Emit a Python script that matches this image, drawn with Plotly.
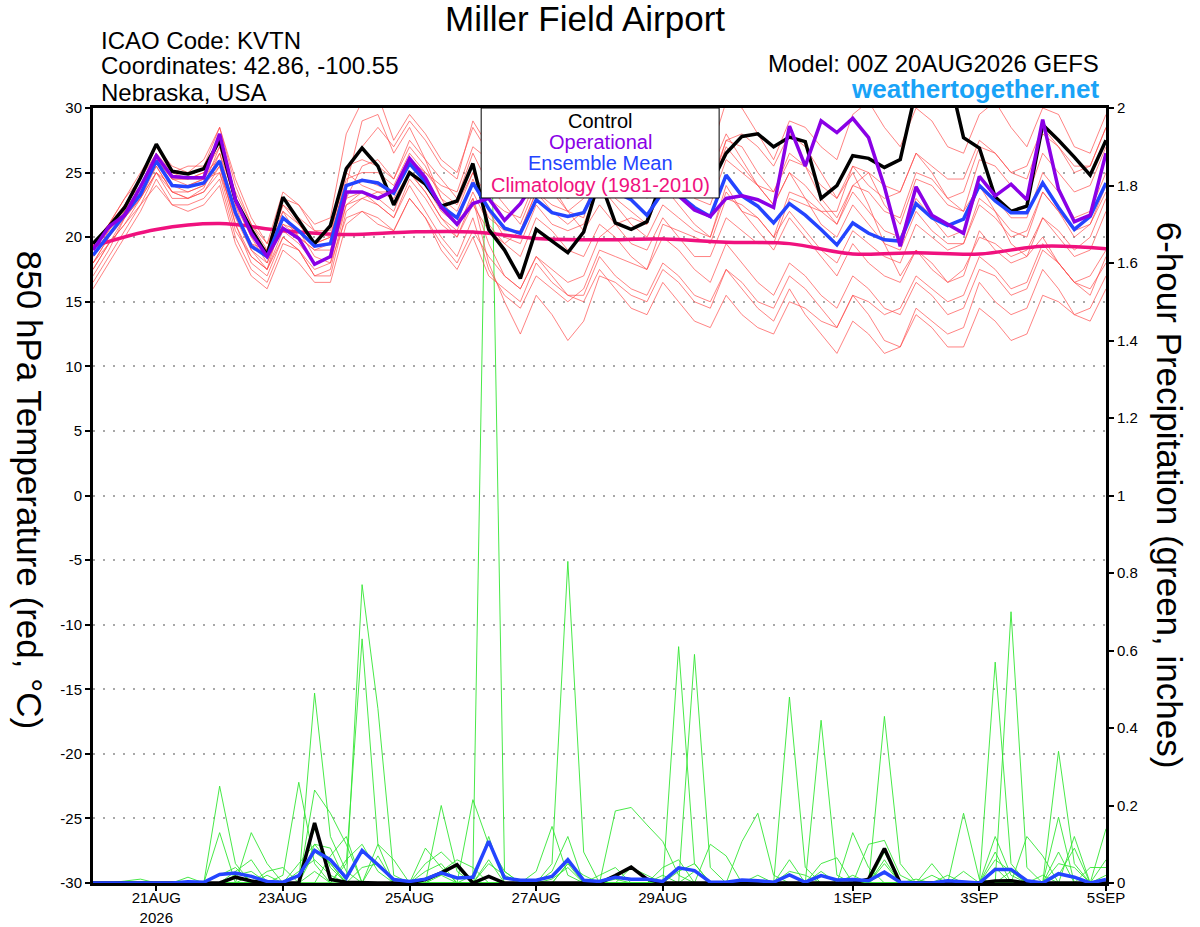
import pandas as pd
import plotly.graph_objects as go

# 6-hourly GEFS output, 00Z 20AUG2026 -> 00Z 5SEP2026
times = pd.date_range("2026-08-20 00:00", periods=65, freq="6h")
clim_times = pd.date_range("2026-08-20", periods=17, freq="D")

tick_dates = ["2026-08-21", "2026-08-23", "2026-08-25", "2026-08-27",
              "2026-08-29", "2026-09-01", "2026-09-03", "2026-09-05"]
tick_labels = ["21AUG<br>2026", "23AUG", "25AUG", "27AUG",
               "29AUG", "1SEP", "3SEP", "5SEP"]
temp_ticks = list(range(-30, 31, 5))
temp_tick_labels = [str(t) for t in temp_ticks]

# ---- 850 hPa temperature (C) ----
temp_control = [
    19.5, 20.8, 22.3, 24.6, 27.2, 25.1, 24.9, 25.3, 27.5, 22.9, 20.6, 18.6, 23.1,
    21.3, 19.5, 20.9, 25.3, 26.9, 25.5, 22.5, 25.0, 24.1, 22.4, 22.8, 25.7, 20.6,
    19.0, 16.8, 20.6, 19.7, 18.8, 20.4, 24.5, 21.1, 20.6, 21.2, 24.5, 25.0, 24.5,
    24.0, 26.5, 27.8, 28.0, 27.0, 27.75, 27.4, 23.0, 24.0, 26.3, 26.1, 25.4, 26.0,
    31.4, 33.0, 33.0, 27.7, 26.9, 23.1, 22.0, 22.4, 28.7, 27.5, 26.2, 24.8, 27.5]
temp_oper = [
    19.0, 20.8, 21.7, 23.9, 26.3, 24.7, 24.6, 24.6, 28.0, 22.9, 20.3, 18.5, 20.7,
    19.9, 17.9, 18.5, 23.5, 23.5, 23.0, 23.6, 26.1, 24.6, 22.3, 21.0, 22.6, 23.0,
    21.3, 22.6, 24.5, 24.0, 24.0, 24.5, 25.0, 24.0, 23.5, 24.0, 25.0, 23.2, 22.1,
    21.6, 23.0, 23.2, 22.9, 22.3, 28.6, 25.5, 29.0, 28.1, 29.2, 27.7, 23.9, 19.3,
    23.9, 21.7, 21.0, 20.3, 24.7, 23.2, 24.1, 22.9, 29.1, 23.7, 21.2, 21.7, 26.5]
temp_mean = [
    18.6, 20.2, 21.7, 23.3, 25.9, 24.0, 23.9, 24.2, 25.9, 21.9, 19.3, 18.5, 21.5,
    20.5, 19.3, 19.5, 24.0, 24.4, 24.2, 23.4, 25.7, 24.3, 22.4, 21.5, 24.2, 22.2,
    20.7, 20.3, 22.9, 21.9, 21.6, 21.9, 24.3, 23.5, 22.9, 21.7, 23.5, 23.3, 22.3,
    21.6, 24.8, 23.2, 22.4, 21.1, 22.6, 21.7, 20.6, 19.4, 21.1, 20.3, 19.8, 19.7,
    22.6, 21.5, 20.9, 21.4, 24.0, 22.8, 21.9, 21.9, 24.2, 22.3, 20.6, 21.6, 24.2]
temp_clim = [19.3, 20.6, 21.05, 20.5, 20.2, 20.4, 20.4, 19.9, 19.8,
             19.85, 19.6, 19.5, 18.7, 18.8, 18.7, 19.3, 19.1]

temp_m01 = [
    17.5, 19.5, 21.0, 23.0, 25.0, 23.5, 23.0, 23.8, 26.5, 23.0, 20.0, 18.0, 21.0,
    20.5, 18.5, 18.0, 23.0, 25.5, 26.0, 24.5, 27.5, 26.0, 24.5, 23.0, 26.5, 24.0,
    22.5, 21.0, 24.0, 23.5, 22.0, 21.5, 25.5, 26.0, 25.0, 23.5, 26.0, 27.0, 25.5,
    24.0, 27.5, 27.0, 25.0, 23.5, 26.0, 25.5, 23.0, 21.5, 24.0, 25.0, 22.5, 21.0,
    24.5, 24.0, 22.5, 22.0, 26.0, 25.5, 24.0, 23.0, 26.5, 25.0, 23.5, 24.0, 27.0]
temp_m02 = [
    18.0, 20.0, 22.0, 24.0, 26.0, 24.5, 24.0, 24.5, 25.0, 20.5, 18.5, 17.5, 20.0,
    19.0, 17.5, 18.0, 21.5, 22.0, 21.0, 20.5, 23.0, 21.5, 19.5, 18.0, 20.5, 18.5,
    17.0, 16.0, 18.5, 17.0, 15.5, 15.0, 17.5, 16.0, 14.5, 14.0, 16.5, 15.0, 13.5,
    13.0, 15.5, 14.0, 13.0, 12.5, 15.0, 14.5, 13.5, 13.0, 15.5, 15.0, 14.0, 14.5,
    17.0, 16.0, 15.0, 15.5, 18.5, 17.5, 16.0, 16.5, 19.5, 18.0, 16.5, 17.0, 19.0]
temp_m03 = [
    19.5, 21.0, 22.5, 24.5, 26.5, 25.0, 25.5, 25.5, 28.5, 24.5, 21.5, 19.5, 23.5,
    22.5, 21.0, 21.5, 28.0, 30.5, 31.0, 27.5, 29.5, 28.0, 26.0, 25.0, 28.5, 26.5,
    25.0, 24.0, 27.0, 26.5, 25.5, 25.0, 28.5, 29.0, 27.5, 26.0, 28.5, 29.5, 28.0,
    26.5, 30.5, 30.0, 28.0, 26.0, 29.0, 28.5, 27.0, 26.0, 29.5, 30.5, 28.5, 27.0,
    30.0, 29.0, 27.0, 26.5, 29.5, 30.5, 28.5, 27.0, 30.0, 29.5, 27.0, 26.5, 29.5]
temp_m04 = [
    16.5, 18.5, 20.5, 22.5, 24.0, 22.5, 22.5, 23.0, 24.5, 20.0, 17.5, 16.5, 19.5,
    19.0, 17.0, 17.5, 22.5, 23.5, 23.0, 22.0, 25.0, 23.5, 21.5, 20.5, 23.5, 21.0,
    19.5, 18.5, 21.5, 20.5, 19.0, 18.5, 21.0, 20.0, 18.5, 17.5, 20.0, 19.0, 17.5,
    16.5, 19.5, 18.0, 16.5, 15.5, 18.0, 17.0, 15.5, 14.5, 17.0, 16.0, 14.5, 14.0,
    16.5, 15.5, 14.0, 14.5, 17.5, 17.0, 15.5, 16.0, 19.0, 18.0, 16.5, 15.5, 18.5]
temp_m05 = [
    18.5, 20.5, 22.5, 24.0, 26.5, 24.5, 24.5, 25.0, 27.0, 22.5, 20.0, 19.0, 22.5,
    21.0, 19.5, 20.0, 25.5, 26.0, 25.5, 24.5, 27.0, 25.5, 23.0, 22.0, 25.0, 22.0,
    20.0, 19.5, 22.5, 21.0, 20.5, 21.0, 24.0, 22.5, 21.0, 20.0, 22.5, 21.5, 20.5,
    20.0, 23.5, 22.0, 21.5, 20.0, 22.0, 20.5, 19.0, 18.0, 20.5, 19.5, 18.5, 18.0,
    21.0, 20.0, 19.0, 19.5, 22.5, 21.5, 20.0, 20.5, 23.5, 22.0, 20.0, 21.0, 23.5]
temp_m06 = [
    17.0, 19.0, 21.5, 23.5, 25.5, 23.5, 23.5, 24.0, 25.5, 21.0, 18.5, 17.5, 20.5,
    19.5, 18.0, 18.5, 24.0, 24.5, 24.0, 23.5, 26.0, 24.0, 22.0, 21.0, 24.5, 21.5,
    20.5, 20.5, 23.5, 22.0, 21.0, 22.0, 25.0, 23.0, 22.0, 21.0, 24.0, 22.5, 21.0,
    20.0, 24.0, 22.0, 20.5, 19.0, 21.5, 20.0, 18.5, 17.0, 19.5, 18.0, 17.0, 16.5,
    19.0, 18.0, 16.5, 17.0, 20.5, 19.0, 18.0, 18.5, 21.5, 20.0, 18.5, 19.0, 22.0]
temp_m07 = [
    18.0, 20.0, 21.5, 23.0, 25.5, 23.5, 23.0, 23.5, 25.0, 21.5, 19.0, 18.0, 21.0,
    20.0, 19.0, 19.0, 23.0, 23.5, 22.5, 21.5, 24.0, 22.0, 20.0, 18.5, 21.5, 17.5,
    15.5, 14.5, 17.0, 16.0, 15.0, 16.0, 19.0, 18.5, 18.0, 17.5, 21.0, 20.5, 20.0,
    19.5, 23.0, 22.5, 21.5, 20.0, 23.5, 23.0, 22.0, 21.0, 24.0, 23.5, 22.0, 21.5,
    25.0, 24.5, 23.0, 23.5, 27.0, 26.5, 25.0, 24.5, 28.0, 27.0, 25.5, 25.5, 28.5]
temp_m08 = [
    19.0, 21.0, 23.0, 24.5, 27.0, 25.0, 24.5, 24.5, 26.5, 22.0, 19.5, 18.5, 22.0,
    21.0, 19.5, 20.0, 24.5, 25.0, 25.0, 24.0, 26.5, 25.0, 23.5, 22.5, 25.0, 23.0,
    22.0, 21.5, 24.5, 23.5, 23.0, 23.5, 26.0, 25.5, 24.5, 23.0, 25.5, 24.5, 23.0,
    22.5, 26.0, 25.0, 24.0, 22.5, 25.0, 24.0, 22.5, 21.0, 23.5, 22.0, 20.5, 20.0,
    23.0, 21.5, 20.0, 20.5, 24.0, 23.0, 21.5, 21.5, 25.0, 23.5, 21.5, 22.0, 25.0]
temp_m09 = [
    18.5, 20.0, 22.0, 24.0, 26.0, 24.0, 24.0, 24.5, 27.5, 22.5, 19.0, 17.5, 21.5,
    20.0, 19.0, 19.5, 25.0, 27.0, 28.5, 27.0, 29.0, 27.5, 25.5, 24.5, 29.0, 27.0,
    26.0, 25.5, 29.0, 28.0, 27.5, 27.0, 30.0, 29.5, 28.0, 26.5, 29.5, 28.0, 26.5,
    25.0, 28.0, 26.0, 24.0, 22.5, 25.0, 23.0, 21.0, 20.0, 22.5, 21.0, 19.5, 19.0,
    22.0, 20.5, 19.5, 19.5, 23.0, 22.0, 20.5, 20.0, 23.5, 22.0, 20.5, 21.0, 24.0]
temp_m10 = [
    17.5, 19.5, 21.0, 22.5, 25.0, 23.0, 23.0, 23.5, 25.5, 21.0, 18.0, 17.0, 20.0,
    19.0, 17.0, 17.0, 22.0, 23.0, 22.5, 21.5, 24.5, 23.0, 21.0, 20.0, 23.0, 18.0,
    15.0, 12.5, 15.5, 14.0, 12.0, 13.5, 17.0, 16.5, 15.5, 15.0, 17.5, 16.5, 15.0,
    14.5, 17.5, 16.5, 15.0, 14.5, 17.0, 16.0, 14.5, 13.0, 15.5, 14.0, 12.0, 11.5,
    14.0, 13.0, 11.5, 11.5, 14.5, 13.5, 12.0, 12.5, 15.5, 15.0, 14.0, 13.5, 16.0]
temp_m11 = [
    19.0, 20.5, 22.0, 23.5, 26.0, 24.5, 24.5, 25.0, 26.0, 22.0, 19.5, 19.0, 22.5,
    21.5, 20.5, 20.5, 25.0, 24.0, 23.5, 23.0, 25.0, 23.5, 21.5, 20.0, 22.5, 20.5,
    19.5, 20.5, 23.5, 22.5, 22.0, 23.0, 26.5, 25.0, 24.0, 23.5, 26.5, 25.5, 24.0,
    23.5, 27.0, 25.5, 24.0, 23.5, 26.5, 25.5, 24.0, 23.0, 25.5, 24.0, 23.0, 23.5,
    26.5, 25.5, 24.5, 24.5, 27.5, 26.5, 25.0, 25.5, 28.5, 27.0, 25.0, 25.5, 28.5]
temp_m12 = [
    16.0, 18.0, 20.0, 22.0, 24.5, 22.5, 22.0, 22.5, 24.0, 19.5, 17.0, 16.0, 19.0,
    18.0, 16.5, 16.5, 21.0, 22.0, 21.5, 20.5, 23.0, 21.5, 19.0, 17.5, 20.0, 17.0,
    16.0, 15.0, 18.0, 16.5, 15.5, 15.5, 18.5, 17.0, 16.0, 15.5, 18.0, 17.0, 15.5,
    15.0, 17.5, 16.0, 14.5, 13.5, 16.0, 14.0, 12.5, 11.0, 13.5, 12.5, 11.0, 11.5,
    14.5, 13.5, 12.5, 13.0, 16.5, 15.0, 14.0, 14.5, 17.5, 16.0, 14.0, 14.5, 17.0]
temp_m13 = [
    18.0, 19.5, 21.5, 23.0, 25.0, 24.0, 23.5, 24.0, 27.0, 23.5, 21.0, 19.0, 23.0,
    22.5, 20.5, 20.0, 24.0, 29.0, 29.5, 26.5, 28.5, 26.0, 23.0, 21.0, 23.0, 19.5,
    17.0, 16.0, 18.5, 17.5, 16.5, 17.0, 20.0, 21.0, 21.5, 21.0, 24.5, 24.0, 23.5,
    23.5, 27.5, 28.0, 27.0, 25.5, 28.0, 27.0, 25.0, 23.0, 25.0, 22.5, 19.5, 17.0,
    19.0, 17.5, 16.5, 17.5, 20.0, 19.5, 18.5, 19.0, 21.5, 20.5, 19.0, 20.0, 23.0]
temp_m14 = [
    19.5, 21.0, 23.0, 25.0, 27.0, 25.5, 25.0, 26.0, 28.5, 24.0, 21.0, 19.5, 22.0,
    20.0, 18.0, 18.5, 22.5, 23.0, 23.5, 23.5, 26.0, 25.0, 24.0, 23.5, 27.0, 26.0,
    25.0, 24.0, 26.0, 24.0, 22.0, 20.5, 22.5, 21.0, 19.5, 19.0, 21.5, 20.0, 18.5,
    18.5, 21.5, 20.5, 19.5, 19.5, 23.0, 22.5, 22.0, 22.0, 25.5, 25.0, 24.0, 23.5,
    26.5, 25.0, 23.0, 22.0, 24.0, 22.0, 19.5, 18.5, 20.0, 18.0, 16.5, 16.0, 18.0]

temp_members = [temp_m01, temp_m02, temp_m03, temp_m04, temp_m05, temp_m06, temp_m07,
                temp_m08, temp_m09, temp_m10, temp_m11, temp_m12, temp_m13, temp_m14]

# ---- 6-hour precipitation (inches) ----
precip_control = [
    0, 0, 0, 0, 0, 0, 0, 0, 0, 0.015, 0.005, 0, 0,
    0, 0.155, 0.009, 0.002, 0, 0, 0, 0, 0.009, 0.026, 0.047, 0, 0.017,
    0, 0, 0, 0, 0, 0, 0, 0.019, 0.041, 0.01, 0, 0, 0,
    0, 0, 0, 0, 0, 0, 0, 0, 0, 0, 0.01, 0.089, 0,
    0, 0, 0, 0, 0, 0.005, 0.006, 0, 0, 0, 0, 0, 0]
precip_mean = [
    0, 0, 0, 0, 0, 0, 0.003, 0.002, 0.022, 0.026, 0.017, 0.004, 0.002,
    0.019, 0.084, 0.06, 0.013, 0.084, 0.047, 0.009, 0.004, 0.01, 0.026, 0.013, 0.015, 0.108,
    0.013, 0.007, 0.007, 0.017, 0.06, 0.007, 0.004, 0.015, 0.01, 0.01, 0.004, 0.039, 0.032,
    0.002, 0.002, 0.008, 0.006, 0.002, 0.021, 0.002, 0.019, 0.008, 0.009, 0.006, 0.028, 0.002,
    0.0, 0.0, 0.006, 0.004, 0.0, 0.035, 0.035, 0.006, 0.0, 0.024, 0.015, 0.0, 0.009]

# members: 6-h step index -> amount (all other steps dry)
precip_m01 = {13: 0.03, 14: 0.06, 15: 0.02, 24: 0.02, 25: 2.35, 26: 0.03, 44: 0.02, 50: 0.03}
precip_m02 = {8: 0.25, 9: 0.05, 14: 0.49, 15: 0.12, 16: 0.03, 30: 0.05, 37: 0.61, 38: 0.05,
              57: 0.12, 58: 0.02}
precip_m03 = {8: 0.13, 10: 0.02, 17: 0.77, 18: 0.45, 19: 0.02, 29: 0.05, 30: 0.83, 31: 0.08,
              46: 0.42, 47: 0.02, 61: 0.17}
precip_m04 = {10: 0.13, 11: 0.05, 16: 0.05, 17: 0.63, 18: 0.1, 22: 0.2, 23: 0.03, 38: 0.59,
              39: 0.04, 50: 0.43, 51: 0.05, 64: 0.06}
precip_m05 = {12: 0.02, 13: 0.26, 14: 0.05, 21: 0.09, 22: 0.04, 33: 0.186, 34: 0.195,
              35: 0.15, 36: 0.107, 37: 0.02, 55: 0.18, 56: 0.01, 58: 0.70, 59: 0.04}
precip_m06 = {14: 0.24, 15: 0.18, 16: 0.1, 24: 0.215, 25: 0.1, 26: 0.03, 44: 0.48, 45: 0.04,
              57: 0.57, 58: 0.05, 62: 0.12}
precip_m07 = {11: 0.03, 12: 0.04, 15: 0.07, 16: 0.12, 18: 0.1, 19: 0.06, 28: 0.03, 29: 0.146,
              30: 0.02, 41: 0.107, 42: 0.18, 43: 0.02, 49: 0.1, 50: 0.11, 51: 0.02, 61: 0.34,
              62: 0.05}
precip_m08 = {9: 0.03, 10: 0.06, 14: 0.08, 15: 0.05, 21: 0.05, 22: 0.08, 23: 0.04, 32: 0.02,
              33: 0.04, 39: 0.1, 40: 0.07, 48: 0.13, 49: 0.04, 53: 0.05, 59: 0.12, 60: 0.07,
              64: 0.14}
precip_m09 = {11: 0.02, 13: 0.05, 14: 0.1, 15: 0.09, 17: 0.04, 18: 0.05, 25: 0.05, 26: 0.02,
              30: 0.05, 31: 0.02, 36: 0.04, 37: 0.06, 46: 0.05, 47: 0.065, 50: 0.06, 53: 0.02,
              57: 0.04, 60: 0.02, 63: 0.04, 64: 0.04}
precip_m10 = {14: 0.03, 16: 0.06, 17: 0.1, 18: 0.03, 22: 0.03, 23: 0.06, 24: 0.04, 29: 0.01,
              30: 0.04, 34: 0.04, 35: 0.02, 38: 0.03, 44: 0.03, 45: 0.02, 50: 0.05, 55: 0.03,
              57: 0.06, 58: 0.03, 61: 0.05, 62: 0.04}
precip_m11 = {2: 0.005, 3: 0.01, 6: 0.015, 8: 0.02, 9: 0.04, 13: 0.02, 14: 0.14, 15: 0.04,
              21: 0.03, 22: 0.05, 25: 0.06, 29: 0.03, 30: 0.12, 37: 0.03, 38: 0.05, 42: 0.02,
              46: 0.03, 50: 0.08, 54: 0.02, 57: 0.08, 61: 0.02, 62: 0.09}
precip_m12 = {9: 0.02, 10: 0.03, 14: 0.1, 15: 0.05, 18: 0.07, 22: 0.02, 25: 0.12, 33: 0.01,
              36: 0.02, 44: 0.06, 48: 0.02, 52: 0.01, 58: 0.03, 61: 0.08, 64: 0.02}

precip_members = [precip_m01, precip_m02, precip_m03, precip_m04, precip_m05, precip_m06,
                  precip_m07, precip_m08, precip_m09, precip_m10, precip_m11, precip_m12]


def expand(events):
    vals = [0.0] * len(times)
    for k, v in events.items():
        vals[k] = v
    return vals


FONT = "Liberation Sans, Arial, sans-serif"
RED = "rgba(255,70,70,0.75)"
GREEN = "#33e633"
PURPLE = "#8a00e6"
BLUE = "#2444ff"
PINK = "#f0117e"

fig = go.Figure()

# precipitation on the right axis (drawn underneath)
for m in precip_members:
    fig.add_scatter(x=times, y=expand(m), mode="lines", yaxis="y",
                    line=dict(color=GREEN, width=0.9), hoverinfo="skip")
fig.add_scatter(x=times, y=precip_control, mode="lines", yaxis="y",
                line=dict(color="black", width=3.5))
fig.add_scatter(x=times, y=precip_mean, mode="lines", yaxis="y",
                line=dict(color=BLUE, width=3.5))

# temperature on the left axis
for m in temp_members:
    fig.add_scatter(x=times, y=m, mode="lines", yaxis="y2",
                    line=dict(color=RED, width=0.9), hoverinfo="skip")
fig.add_scatter(x=clim_times, y=temp_clim, mode="lines", yaxis="y2",
                line=dict(color=PINK, width=3.5, shape="spline"))
fig.add_scatter(x=times, y=temp_control, mode="lines", yaxis="y2",
                line=dict(color="black", width=3.5))
fig.add_scatter(x=times, y=temp_mean, mode="lines", yaxis="y2",
                line=dict(color=BLUE, width=3.5))
fig.add_scatter(x=times, y=temp_oper, mode="lines", yaxis="y2",
                line=dict(color=PURPLE, width=3.5))

axis_common = dict(zeroline=False, showline=True, linecolor="black", linewidth=3,
                   ticks="outside", ticklen=5, tickwidth=1.5, tickcolor="black",
                   tickfont=dict(size=15), automargin=False)

fig.update_layout(
    width=1200, height=927,
    margin=dict(l=93, r=94, t=108, b=44, autoexpand=False),
    paper_bgcolor="white", plot_bgcolor="white",
    showlegend=False,
    font=dict(family=FONT, size=15, color="black"),
    xaxis=dict(range=[times[0], times[-1]], tickvals=tick_dates, ticktext=tick_labels,
               showgrid=False, mirror=True, ticklabelstandoff=-6, **axis_common),
    yaxis=dict(range=[0, 2], dtick=0.2, side="right", showgrid=False, **axis_common),
    yaxis2=dict(range=[-30, 30], overlaying="y", side="left", tickvals=temp_ticks,
                ticktext=temp_tick_labels, showgrid=True, gridcolor="#a8a8a8",
                griddash="2px,8px", gridwidth=1.5, **axis_common),
)

# legend box
fig.add_shape(type="rect", xref="paper", yref="paper", x0=0.3832, x1=0.6181,
              y0=0.8839, y1=1.0, fillcolor="white", line=dict(color="black", width=1),
              layer="above")
legend_items = [("Control", "black", 0.983), ("Operational", PURPLE, 0.956),
                ("Ensemble Mean", BLUE, 0.929), ("Climatology (1981-2010)", PINK, 0.901)]
for txt, col, yy in legend_items:
    fig.add_annotation(text=txt, x=0.5006, y=yy, xref="paper", yref="paper",
                       showarrow=False, font=dict(size=20, color=col),
                       xanchor="center", yanchor="middle")

# header
fig.add_annotation(text="Miller Field Airport", x=0.486, y=1.116, xref="paper", yref="paper",
                   showarrow=False, font=dict(size=35), xanchor="center", yanchor="middle")
for txt, yy in [("ICAO Code: KVTN", 1.0877), ("Coordinates: 42.86, -100.55", 1.0542),
                ("Nebraska, USA", 1.0206)]:
    fig.add_annotation(text=txt, x=0.0055, y=yy, xref="paper", yref="paper",
                       showarrow=False, xanchor="left", yanchor="middle", font=dict(size=24))
fig.add_annotation(text="Model: 00Z 20AUG2026 GEFS", x=0.995, y=1.058, xref="paper",
                   yref="paper", showarrow=False, xanchor="right", yanchor="middle",
                   font=dict(size=24))
fig.add_annotation(text="<b>weathertogether.net</b>", x=0.995, y=1.0245, xref="paper",
                   yref="paper", showarrow=False, xanchor="right", yanchor="middle",
                   font=dict(size=26, color="#19a3f7"))

# axis titles (both read top to bottom)
fig.add_annotation(text="850 hPa Temperature (red, °C)", x=-0.0619, y=0.507, xref="paper",
                   yref="paper", showarrow=False, textangle=90, font=dict(size=35),
                   xanchor="center", yanchor="middle")
fig.add_annotation(text="6-hour Precipitation (green, inches)", x=1.063, y=0.50,
                   xref="paper", yref="paper", showarrow=False, textangle=90,
                   font=dict(size=35), xanchor="center", yanchor="middle")

fig.write_html("out.html", config={"displayModeBar": False},
               post_script="document.body.style.margin='0';")
